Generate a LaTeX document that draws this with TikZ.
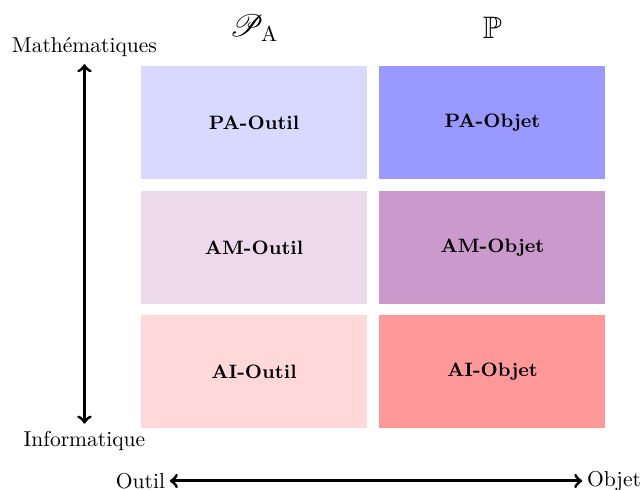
\documentclass[tikz,border=0pt]{standalone}
\usepackage{amsmath,amssymb,mathrsfs}
\usepackage{xcolor}
\usepackage{tikz}
\usetikzlibrary{arrows.meta,positioning,calc}

\begin{document}
\begin{tikzpicture}[>=to, x=1cm, y=1cm]
\tikzset{cell/.style={fill=#1, minimum width=3.687cm, minimum height=1.843cm, inner sep=0pt, font=\small\bfseries}, axis/.style={->, line width=1.4pt}, axislabel/.style={inner sep=2pt}, head/.style={font=\Large}}
\useasboundingbox (0,0) rectangle (10.457,7.993);
\foreach \name/\x/\y/\col/\label in {paout/4.144/5.995/blue!15/PA-Outil,paobj/8.034/5.995/blue!40/PA-Objet,amout/4.144/3.956/violet!15/AM-Outil,amobj/8.034/3.956/violet!40/AM-Objet,aiout/4.144/1.933/red!15/AI-Outil,aiobj/8.034/1.933/red!40/AI-Objet} {
  \node[cell=\col] (\name) at (\x,\y) {\label};
}
\node[head] (pa) at (4.144,7.537) {$\mathscr{P}_{\mathrm{A}}$};
\node[head] (pp) at (8.034,7.537) {$\mathbb{P}$};
\node (maths) at (1.378,7.227) {Math\'ematiques};
\node (info) at (1.378,0.799) {Informatique};
\draw[axis,<->] (maths) -- (info);
\coordinate (mid) at (6.134,0.147);
\node[axislabel, anchor=east] (outil) at (2.77,0.147) {Outil};
\node[axislabel, anchor=west] (objet) at (9.50,0.147) {Objet};
\draw[axis] (mid) -- (outil);
\draw[axis] (mid) -- (objet);
\end{tikzpicture}
\end{document}
